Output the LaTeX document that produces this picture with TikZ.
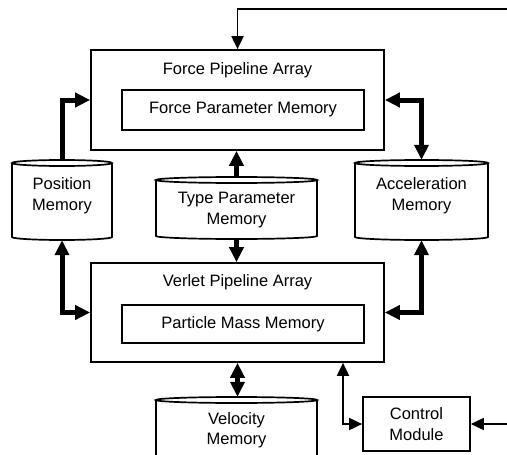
\documentclass[tikz,border=0pt]{standalone}
\usepackage{fontspec}
\setmainfont{Liberation Sans}
\usetikzlibrary{arrows.meta}
\tikzset{
  Tk/.tip={Triangle[length=15pt,width=14pt]},
  Tn/.tip={Triangle[length=13pt,width=12pt]},
  blockbox/.style={draw, line width=1.7pt, inner sep=0pt},
  region/.style={inner sep=0pt},
  lbl/.style={align=center, inner sep=0pt, font=\fontsize{16.5}{20.5}\selectfont},
  thk/.style={line width=5pt},
  thn/.style={line width=1.8pt},
  cylline/.style={line width=1.7pt}
}
\newcommand\cylshape[4]{%
  \draw[cylline] ({#1-#2},#3) -- ({#1-#2},#4)
    arc[start angle=180,end angle=360,x radius=#2 pt,y radius=3pt] -- ({#1+#2},#3);
  \draw[cylline] (#1,#3) ellipse[x radius=#2 pt,y radius=3pt];}
\begin{document}
\begin{tikzpicture}[x=1pt,y=-1pt]
\useasboundingbox (0,0) rectangle (507,455);
\clip (0,0) rectangle (507,455);

% boxes
\node[blockbox, minimum width=293pt, minimum height=100pt] (fpa) at (237.5,100) {};
\node[lbl] (fpat) at (237.5,70.5) {Force Pipeline Array};
\node[blockbox, lbl, minimum width=242pt, minimum height=40pt] (fpm) at (243,110) {Force Parameter Memory};

\node[blockbox, minimum width=293pt, minimum height=99pt] (vpa) at (237.5,312.5) {};
\node[lbl] (vpat) at (237.5,282.5) {Verlet Pipeline Array};
\node[blockbox, lbl, minimum width=242pt, minimum height=38pt] (pmm) at (243,324) {Particle Mass Memory};

\node[blockbox, lbl, minimum width=107pt, minimum height=54pt] (ctrl) at (416.5,424) {Control\\Module};

% cylinders
\cylshape{62}{50}{163}{237}
\node[region, minimum width=100pt, minimum height=80pt] (pos) at (62,200) {};
\node[lbl] (post) at (62,195.5) {Position\\Memory};

\cylshape{421.5}{66.5}{163}{237}
\node[region, minimum width=133pt, minimum height=80pt] (acc) at (421.5,200) {};
\node[lbl] (acct) at (421.5,195.5) {Acceleration\\Memory};

\cylshape{236.5}{80.5}{180}{236}
\node[region, minimum width=161pt, minimum height=62pt] (tpm) at (236.5,208) {};
\node[lbl] (tpmt) at (236.5,210) {Type Parameter\\Memory};

\cylshape{236.5}{80.5}{400}{470}
\node[region, minimum width=161pt, minimum height=76pt] (vel) at (236.5,435) {};
\node[lbl] (velt) at (236.5,430) {Velocity\\Memory};

% external coordinates
\coordinate (fin) at (507,9);
\coordinate (cin) at (507,424);

% connectors
\draw[thn,-Tn] (fin) -| (fpa.north);
\draw[thk,-Tk] (pos.north) |- (fpa.west);
\draw[thk,Tk-Tk] (fpa.east) -| (acc.north);
\draw[thk,-Tk] (tpm.north) -- (tpm.north |- fpa.south);
\draw[thk,-Tk] (tpm.south) -- (tpm.south |- vpa.north);
\draw[thk,Tk-Tk] (pos.south) |- (vpa.west);
\draw[thk,Tk-Tk] (acc.south) |- (vpa.east);
\draw[thk,Tk-Tk] (vpa.south) -- (vpa.south |- vel.north);
\draw[thn,Tn-Tn] ([xshift=105.5pt]vpa.south) |- (ctrl.west);
\draw[thn,-Tn] (cin) -- (ctrl.east);
\end{tikzpicture}
\end{document}
